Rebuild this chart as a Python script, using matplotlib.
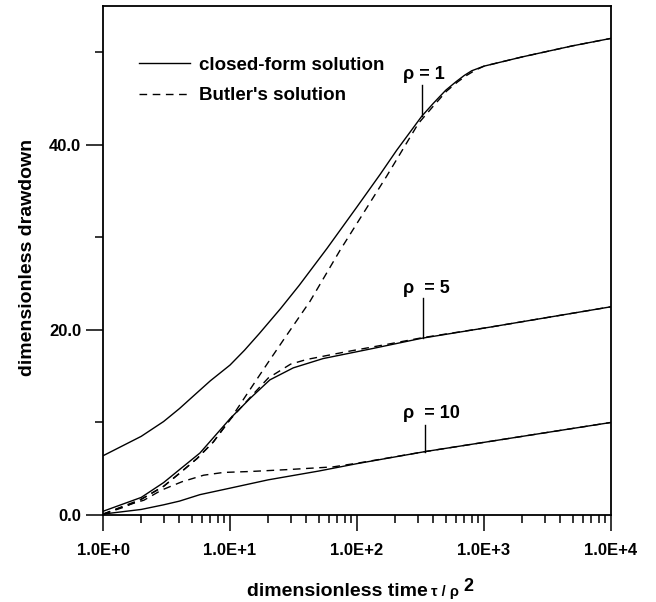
import matplotlib; matplotlib.use('Agg')
import matplotlib.pyplot as plt
import numpy as np
from matplotlib.ticker import NullFormatter

plt.rcParams['font.family'] = ['Liberation Sans', 'DejaVu Sans']
plt.rcParams['font.weight'] = 'bold'
plt.rcParams['axes.labelweight'] = 'bold'

# closed-form solution, rho = 1, 5, 10
t_cf1 = [1, 2, 3, 4, 5, 7, 10, 13, 17, 25, 35, 58, 100, 152, 205, 324, 400, 500, 600, 700, 800, 1000, 2000, 5000, 10000]
s_cf1 = [6.4, 8.5, 10.1, 11.5, 12.7, 14.5, 16.2, 17.8, 19.6, 22.3, 24.8, 28.8, 33.3, 36.8, 39.4, 43.1, 44.5, 45.9, 46.8, 47.5, 48.0, 48.5, 49.5, 50.7, 51.5]
t_cf5 = [1, 2, 3, 4, 5.8, 10, 14.4, 20.6, 31.5, 54, 134, 324, 1115, 10000]
s_cf5 = [0.4, 1.9, 3.5, 4.9, 6.7, 10.4, 12.6, 14.6, 15.9, 16.9, 18.0, 19.1, 20.3, 22.5]
t_cf10 = [1, 2, 3, 4, 5.8, 10, 20, 50, 100, 343, 1000, 10000]
s_cf10 = [0.1, 0.6, 1.1, 1.5, 2.2, 2.9, 3.8, 4.75, 5.55, 6.85, 7.85, 10.0]

# Butler's solution
t_bt1 = [1, 1.5, 2, 3, 4, 5.5, 7.4, 10, 13.5, 20, 26.3, 42.7, 73.5, 171, 304, 400, 507, 620, 730, 850, 1000, 2000, 5000, 10000]
s_bt1 = [0.1, 0.9, 1.7, 3.1, 4.5, 6.1, 7.9, 10.3, 13.0, 16.5, 18.9, 23.1, 28.6, 36.6, 42.3, 44.2, 45.8, 46.8, 47.5, 48.05, 48.5, 49.5, 50.7, 51.5]
t_bt5 = [1, 2, 3, 4, 5.5, 7.4, 10, 14.4, 20, 30, 40, 83, 182, 324, 1115, 10000]
s_bt5 = [0.1, 1.7, 3.1, 4.5, 6.1, 7.9, 10.3, 12.7, 14.8, 16.3, 16.8, 17.65, 18.5, 19.15, 20.3, 22.5]
t_bt10 = [1, 1.5, 2.1, 2.9, 4.2, 6.2, 8.9, 14.4, 27.9, 65, 106, 343, 1000, 10000]
s_bt10 = [0.05, 1.0, 1.6, 2.7, 3.6, 4.3, 4.6, 4.7, 4.9, 5.2, 5.65, 6.85, 7.85, 10.0]

x_ticks = [1, 10, 100, 1000, 10000]
x_ticklabels = ['1.0E+0', '1.0E+1', '1.0E+2', '1.0E+3', '1.0E+4']
y_ticks = [0, 20, 40]
y_ticklabels = ['0.0', '20.0', '40.0']

# rho labels: text, text x, text y, marker x, top of marker line
rho_labels = ['\u03c1 = 1', '\u03c1  = 5', '\u03c1  = 10']
rho_text_t = [230, 230, 230]
rho_text_s = [47.6, 24.5, 11.0]
rho_line_t = [325, 330, 343]
rho_line_top = [46.5, 23.4, 9.7]

fig = plt.figure(figsize=(6.56, 6.02), dpi=100)
ax = fig.add_axes([103/656, 87/602, 508/656, 509/602])

dash = (0, (5.5, 4))
h_cf = None
h_bt = None
cf_sets = [(t_cf1, s_cf1), (t_cf5, s_cf5), (t_cf10, s_cf10)]
bt_sets = [(t_bt1, s_bt1), (t_bt5, s_bt5), (t_bt10, s_bt10)]
for (tc, sc), (tb, sb) in zip(cf_sets, bt_sets):
    l1, = ax.plot(tc, sc, color='k', lw=1.0)
    l2, = ax.plot(tb, sb, color='k', lw=1.0, linestyle=dash)
    if h_cf is None:
        h_cf, h_bt = l1, l2

# labels with marker lines down to the curves
for i, (tc, sc) in enumerate(cf_sets):
    v_curve = np.interp(np.log10(rho_line_t[i]), np.log10(tc), sc)
    ax.plot([rho_line_t[i], rho_line_t[i]], [rho_line_top[i], v_curve], color='k', lw=1.0)
    ax.text(rho_text_t[i], rho_text_s[i], rho_labels[i], ha='left', va='center', fontsize=13)

ax.set_xscale('log')
ax.set_xlim(1, 10000)
ax.set_ylim(0, 55)
ax.set_xticks(x_ticks)
ax.set_xticklabels(x_ticklabels)
ax.xaxis.set_minor_formatter(NullFormatter())
ax.set_yticks(y_ticks)
ax.set_yticklabels(y_ticklabels)
ax.set_yticks([10, 30, 50], minor=True)

ax.tick_params(axis='x', which='major', direction='out', length=11.5, width=1.1, labelsize=12, pad=8.5)
ax.tick_params(axis='y', which='major', direction='out', length=12.2, width=1.1, labelsize=12, pad=3.5)
ax.tick_params(axis='both', which='minor', direction='out', length=5.8, width=1.1)
for sp in ax.spines.values():
    sp.set_linewidth(1.3)

ax.set_ylabel('dimensionless drawdown', fontsize=14)
ax.yaxis.set_label_coords(-0.1325, 0.506)
ax.set_xlabel('dimensionless time', fontsize=14, ha='left')
ax.xaxis.set_label_coords(0.283, -0.1336)
tau = ax.annotate('\u03c4 / \u03c1', xy=(1, 0), xycoords=ax.xaxis.label, xytext=(2.5, 2.9),
                  textcoords='offset points', fontsize=10.5, ha='left', va='baseline')
ax.annotate('2', xy=(1, 0), xycoords=tau, xytext=(3, 5.5),
            textcoords='offset points', fontsize=13, ha='left', va='baseline')

ax.legend([h_cf, h_bt], ['closed-form solution', "Butler's solution"], loc='upper left',
          bbox_to_anchor=(0.0699, 0.901), frameon=False, fontsize=13.5, handlelength=2.77,
          handletextpad=0.43, labelspacing=0.72, borderpad=0, borderaxespad=0)

plt.savefig('out.png', dpi=100, facecolor='white')
